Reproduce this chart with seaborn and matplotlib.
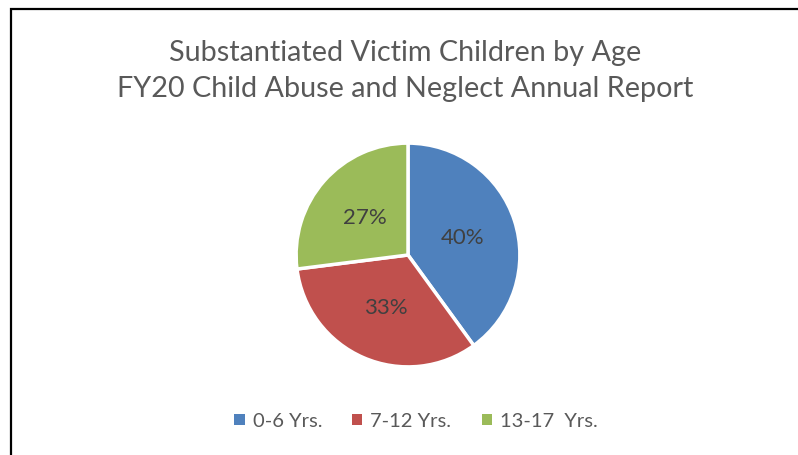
import matplotlib
matplotlib.use('Agg')
import matplotlib.pyplot as plt
from matplotlib.patches import Patch, Rectangle
import seaborn as sns

# ── Data ───────────────────────────────────────────────────────────────────────
age_groups = ['0-6 Yrs.', '7-12 Yrs.', '13-17  Yrs.']
shares     = [40, 33, 27]
title_text = 'Substantiated Victim Children by Age\nFY20 Child Abuse and Neglect Annual Report'

sns.set_theme(style='white')
plt.rcParams['font.family'] = ['Lato', 'DejaVu Sans']
colors = sns.color_palette(['#4F81BD', '#C0504D', '#9BBB59'])

W, H = 798, 456
fig = plt.figure(figsize=(W / 100, H / 100), dpi=100)

# chart border (runs off the right and bottom edges)
fig.patches.append(Rectangle((11 / W, -0.05), 1.1, 1 - 10 / H + 0.05,
                             transform=fig.transFigure, fill=False,
                             edgecolor='black', linewidth=1.6))

fig.text(405 / W, 1 - 71 / H, title_text, ha='center', va='center',
         fontsize=20.7, color='#595959', linespacing=1.45)

# ── Pie ────────────────────────────────────────────────────────────────────────
cx, cy, r = 408, 256, 113
ax = fig.add_axes([(cx - r) / W, (H - cy - r) / H, 2 * r / W, 2 * r / H])
wedges, _, autotexts = ax.pie(
    shares, colors=colors, startangle=90, counterclock=False,
    autopct='%1.0f%%', pctdistance=0.51, radius=1,
    wedgeprops=dict(edgecolor='white', linewidth=2.5),
    textprops=dict(fontsize=16, color='#404040'))
ax.set_xlim(-1.01, 1.01)
ax.set_ylim(-1.01, 1.01)
ax.set_aspect('equal')

handles = [Patch(facecolor=c, edgecolor='none') for c in colors]
fig.legend(handles, age_groups, loc='center', bbox_to_anchor=(416 / W, 1 - 422 / H),
           ncol=3, frameon=False, fontsize=14.5, handlelength=0.5, handleheight=0.5,
           handletextpad=0.4, columnspacing=1.5, labelcolor='#595959')

plt.savefig('out.png', dpi=100)
plt.close()
